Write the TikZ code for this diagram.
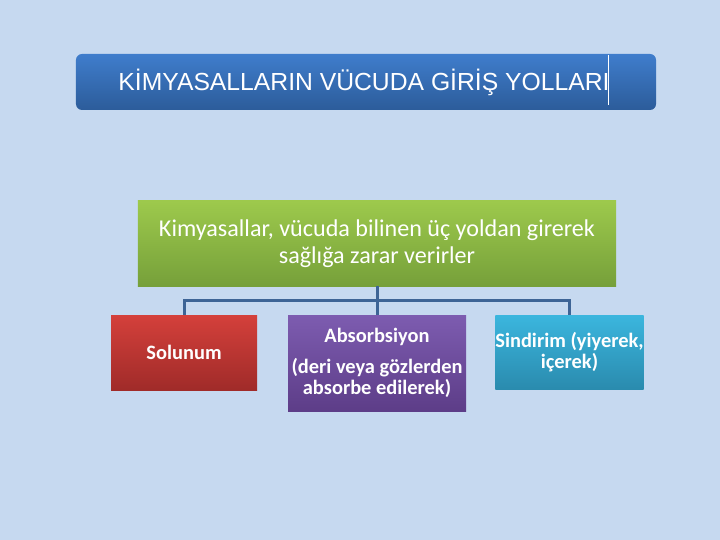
\documentclass[tikz,border=0pt]{standalone}
\usepackage{fontspec}
\setmainfont{Carlito}
\newfontfamily\arialf{Liberation Sans}
\definecolor{bgc}{HTML}{C6D9F0}
\definecolor{titletop}{HTML}{3F7DCC}
\definecolor{titlebot}{HTML}{2C5C9A}
\definecolor{greentop}{HTML}{9DC94C}
\definecolor{greenbot}{HTML}{76A03A}
\definecolor{redtop}{HTML}{D4403B}
\definecolor{redbot}{HTML}{A02B29}
\definecolor{purptop}{HTML}{7D5CB0}
\definecolor{purpbot}{HTML}{5D3D88}
\definecolor{cyantop}{HTML}{3BB6DE}
\definecolor{cyanbot}{HTML}{2A8BAE}
\definecolor{linkc}{HTML}{3D6496}
\tikzset{
  x=1bp, y=-1bp,
  box/.style={rectangle, inner sep=0pt, text=white, align=center},
  childbox/.style={box, font=\fontsize{20.5}{21}\selectfont\bfseries},
  link/.style={draw=linkc, line width=3bp},
}
\begin{document}
\begin{tikzpicture}
\fill[bgc] (0,0) rectangle (720,540);
\useasboundingbox (0,0) rectangle (720,540);
\node[box, rounded corners=6bp, top color=titletop, bottom color=titlebot,
      minimum width=580bp, minimum height=56bp,
      font=\arialf\fontsize{24.8}{28}\selectfont] (title) at (366,82)
      {\hspace*{-4bp}KİMYASALLARIN VÜCUDA GİRİŞ YOLLARI};
\draw[white, line width=0.8bp] (608,55) -- (608,105);
\node[box, top color=greentop, bottom color=greenbot,
      minimum width=478bp, minimum height=85bp,
      font=\fontsize{24.2}{27}\selectfont] (main) at (377,243.5)
      {Kimyasallar, vücuda bilinen üç yoldan girerek\\sağlığa zarar verirler};
\node[childbox, top color=redtop, bottom color=redbot,
      minimum width=146bp, minimum height=75bp] (sol) at (184,352.5) {Solunum};
\node[childbox, top color=purptop, bottom color=purpbot,
      minimum width=178bp, minimum height=96bp] (abs) at (377,363)
      {Absorbsiyon\\[10bp](deri veya gözlerden\\absorbe edilerek)};
\node[childbox, top color=cyantop, bottom color=cyanbot,
      minimum width=147bp, minimum height=74bp] (sin) at (569.5,352)
      {Sindirim (yiyerek,\\içerek)};
\coordinate (bus) at (377,300.5);
\draw[link] (main.south) -- (bus);
\draw[link] (bus) -| (sol.north);
\draw[link] (bus) -- (abs.north);
\draw[link] (bus) -| (sin.north);
\end{tikzpicture}
\end{document}
